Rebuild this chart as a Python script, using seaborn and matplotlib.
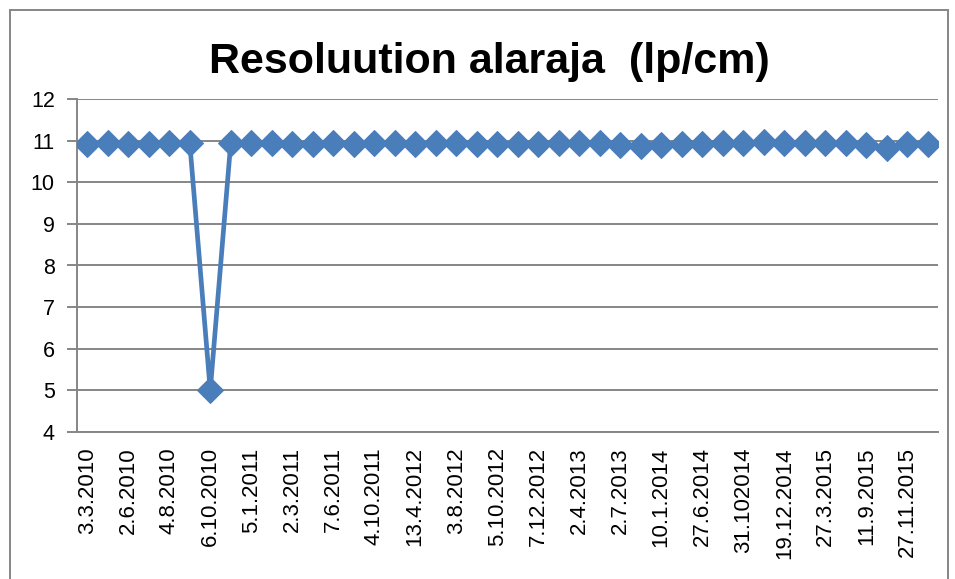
import numpy as np
import pandas as pd
import seaborn as sns
from matplotlib import pyplot as plt
from matplotlib.patches import Rectangle

values = [10.93, 10.95, 10.92, 10.93, 10.95, 10.95, 5.0, 10.95, 10.95, 10.95,
          10.93, 10.92, 10.95, 10.92, 10.95, 10.95, 10.92, 10.95, 10.95, 10.93,
          10.93, 10.92, 10.93, 10.95, 10.95, 10.95, 10.90, 10.88, 10.90, 10.92,
          10.93, 10.95, 10.95, 10.96, 10.95, 10.95, 10.95, 10.95, 10.90, 10.83,
          10.93, 10.93]
date_labels = ["3.3.2010", "2.6.2010", "4.8.2010", "6.10.2010", "5.1.2011",
               "2.3.2011", "7.6.2011", "4.10.2011", "13.4.2012", "3.8.2012",
               "5.10.2012", "7.12.2012", "2.4.2013", "2.7.2013", "10.1.2014",
               "27.6.2014", "31.102014", "19.12.2014", "27.3.2015", "11.9.2015",
               "27.11.2015"]
y_ticks = [4, 5, 6, 7, 8, 9, 10, 11, 12]
title = "Resoluution alaraja  (lp/cm)"

df = pd.DataFrame({"n": np.arange(len(values)), "res": values})

sns.set_style("white")
plt.rcParams['font.family'] = ['Liberation Sans', 'DejaVu Sans']
plt.rcParams['text.color'] = 'black'
plt.rcParams['xtick.color'] = 'black'
plt.rcParams['ytick.color'] = 'black'

blue = "#4A7EBB"
grey = "#868686"

fig = plt.figure(figsize=(9.55, 5.79), dpi=100)
ax = fig.add_axes([77/955, 1-432/579, (938-77)/955, (432-99)/579])

sns.lineplot(data=df, x="n", y="res", ax=ax, color=blue, linewidth=3.4,
             marker="D", markersize=13, markeredgecolor=blue, zorder=3)

ax.set_xlim(-0.5, len(values) - 0.5)
ax.set_ylim(4, 12)
ax.set_yticks(y_ticks)
ax.set_yticklabels([str(t) for t in y_ticks], fontsize=15.5)
ax.yaxis.grid(True, color=grey, linewidth=1.4)
ax.set_axisbelow(True)

# labels on every other point, tick marks at category boundaries
ax.set_xticks(np.arange(0, len(values), 2))
ax.set_xticklabels(date_labels, rotation=90, fontsize=16, va="top")
ax.set_xticks(np.arange(-0.5, len(values), 1), minor=True)
ax.tick_params(axis="x", which="major", length=0, pad=11, labelcolor="black")
ax.tick_params(axis="x", which="minor", length=6, width=1.4, color=grey, direction="out")
ax.tick_params(axis="y", length=7, width=1.4, color=grey, direction="out", left=True,
               pad=9, labelcolor="black")
ax.set_xlabel("")
ax.set_ylabel("")

for s in ["top", "right"]:
    ax.spines[s].set_visible(False)
for s in ["left", "bottom"]:
    ax.spines[s].set_color(grey)
    ax.spines[s].set_linewidth(1.4)

fig.text(489/955, 1-62/579, title, ha="center", va="center", fontsize=31,
         fontweight="bold", color="black",
         family=['Liberation Sans Narrow', 'Liberation Sans', 'DejaVu Sans'])

# chart border
fig.patches.append(Rectangle((10/955, -0.1), (948-10)/955, 1.1-10/579,
                             transform=fig.transFigure, fill=False,
                             edgecolor=grey, linewidth=1.4))

plt.savefig("out.png", dpi=100)
